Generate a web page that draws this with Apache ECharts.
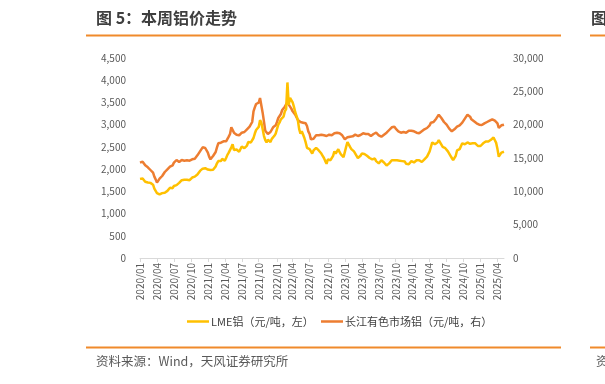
<!DOCTYPE html>
<html>
<head>
<meta charset="utf-8">
<script src="https://cdn.jsdelivr.net/npm/echarts@6/dist/echarts.min.js"></script>
<style>
html,body{margin:0;padding:0;background:#fff;}
#c{width:605px;height:384px;}
</style>
</head>
<body>
<div id="c"></div>
<script>
// Weekly observations (Fridays) starting 2020-01-03
var startDate = '2020-01-03';
var seriesNames = ['LME铝（元/吨，左）', '长江有色市场铝（元/吨，右）'];
var leftTicks = {min: 0, max: 4500, interval: 500};
var rightTicks = {min: 0, max: 30000, interval: 5000};

var lme = [
  // 2020
  1780,1770,1790,1750,1715, 1690,1700,1680,1690, 1670,1650,1560,1510, 1460,1450,1430,1440,
  1460,1450,1470,1500,1510, 1540,1580,1590,1570, 1620,1650,1640,1660,1690, 1720,1750,1770,1760,
  1770,1760,1790,1750, 1780,1810,1850,1830,1820, 1880,1920,1960,1990, 2010,2040,2020,1990,
  // 2021
  1990,2010,1980,1990,1985, 2010,2060,2130,2180, 2210,2180,2230,2240, 2190,2250,2320,2370,2400,
  2490,2560,2430,2420, 2440,2450,2390,2420, 2510,2520,2470,2490,2530, 2610,2580,2600,2640,
  2700,2800,2880,2900, 2950,3100,3050,2900,2750, 2650,2600,2660,2650, 2610,2680,2700,2750,2800,
  // 2022
  2900,3000,3050,3120, 3120,3180,3300,3350, 3950,3450,3600,3550, 3500,3400,3280,3250,3100,
  2900,2800,2850,2780, 2700,2600,2480,2450, 2450,2400,2350,2420,2440, 2480,2450,2420,2400,
  2350,2300,2250,2180,2120, 2220,2250,2200,2230, 2300,2400,2350,2400, 2450,2380,2330,2300,2270,
  // 2023
  2300,2500,2610,2580, 2500,2450,2420,2400, 2350,2300,2250,2280,2300, 2350,2380,2340,2320,
  2300,2280,2250,2230, 2220,2210,2240,2180,2150, 2130,2170,2200,2180, 2150,2120,2080,2100,
  2130,2160,2200,2240,2200, 2180,2200,2170,2190, 2200,2180,2200,2170, 2120,2080,2110,2150,2180,
  // 2024
  2180,2150,2170,2200, 2230,2200,2170,2160, 2200,2220,2240,2280,2290, 2400,2500,2600,2580,
  2560,2530,2600,2650,2620, 2550,2500,2480,2470, 2450,2400,2380,2300, 2250,2200,2170,2300,2420,
  2430,2450,2480,2580, 2620,2560,2580,2600, 2590,2570,2560,2580,2560, 2580,2540,2520,2530,
  // 2025
  2520,2540,2580,2600,2620, 2600,2620,2650,2660, 2680,2710,2650,2590, 2450,2280,2320,2370,
  2400,2390
];

var cj = [
  // 2020
  14300,14250,14450,14300,13900, 13750,13600,13500,13200, 13100,12800,12200,11800, 11300,11500,11900,12200,
  12300,12600,12900,13100,13300, 13500,13700,13800,13900, 14300,14600,14700,14500,14400, 14500,14700,14650,14600,
  14700,14650,14550,14600, 14700,14800,14950,14900,15000, 15400,15600,16000,16300, 16600,16800,16500,16200,
  // 2021
  15800,15200,14800,15100,15300, 15600,15900,16600,17200, 17500,17300,17600,17500, 17600,17500,17800,18200,18600,
  19600,19900,18800,18600, 18500,18600,18400,18700, 18800,18700,18900,19000,19300, 19500,19700,19800,20400,
  22000,22600,23100,23000, 23300,24000,24300,21800,20500, 19100,18800,18600,18700, 18900,19200,19600,19500,19900,
  // 2022
  20400,21000,21300,21600, 22200,22500,22700,22900, 23400,23000,22700,22400, 22000,21800,21500,21200,20700,
  20600,20400,20500,20300, 20400,20200,19800,19000, 18600,17800,17600,17900,18200, 18400,18500,18400,18300,
  18500,18600,18400,18500,18300, 18400,18500,18300,18400, 18600,18700,18900,18800, 18900,18700,18600,18400,18200,
  // 2023
  17800,17600,18100,18300, 18200,18300,18250,18400, 18500,18400,18300,18500,18450, 18600,18700,18500,18600,
  18700,18600,18500,18300, 18400,18600,18700,18800,18500, 18400,18300,18200,18400, 18500,18700,18800,19000,
  19200,19400,19600,19500,19700, 19400,19200,19000,18900, 18800,18700,18900,19000, 18800,18900,19100,19200,19100,
  // 2024
  19200,19000,18900,18800, 18800,18700,18900,19000, 19100,19300,19400,19500,19600, 19900,20300,20500,20400,
  20600,20900,21200,21500,21300, 21000,20700,20400,20200, 20000,19700,19400,19200, 19000,18900,19300,19600,19700,
  19800,19900,20100,20300, 20600,20900,21200,21500, 21400,21200,20800,20700,20500, 20400,20200,20100,20000,
  // 2025
  19900,19950,20100,20200,20300, 20400,20500,20600,20700, 20800,20700,20600,20500, 20200,19500,19700,19900,
  19800,20000
];

// categories: weekly dates
var categories = [];
(function(){
  var d = new Date(startDate + 'T00:00:00Z');
  for (var i = 0; i < lme.length; i++) {
    var y = d.getUTCFullYear(), m = d.getUTCMonth() + 1, day = d.getUTCDate();
    categories.push(y + '-' + (m < 10 ? '0' + m : m) + '-' + (day < 10 ? '0' + day : day));
    d = new Date(d.getTime() + 7 * 86400000);
  }
})();

function isQuarterStart(idx, val) {
  var m = parseInt(val.substr(5, 2), 10);
  var day = parseInt(val.substr(8, 2), 10);
  return (m === 1 || m === 4 || m === 7 || m === 10) && day <= 7;
}
function fmtNum(v) { return String(v).replace(/\B(?=(\d{3})+(?!\d))/g, ','); }

var FONT = '"Noto Sans CJK SC", "Noto Sans", sans-serif';
var ORANGE_RULE = '#F08A2B';

var chart = echarts.init(document.getElementById('c'), null, {renderer: 'canvas'});
chart.setOption({
  animation: false,
  backgroundColor: '#ffffff',
  textStyle: {fontFamily: FONT},
  grid: {left: 140, right: 101, top: 58, bottom: 126, containLabel: false},
  legend: [
    {
      data: [seriesNames[0]], left: 182, top: 311, icon: 'rect', itemWidth: 22, itemHeight: 2.5, itemGap: 4,
      textStyle: {fontSize: 11, color: '#404040', fontFamily: FONT, padding: [0, 0, 0, -3]}
    },
    {
      data: [seriesNames[1]], left: 316, top: 311, icon: 'rect', itemWidth: 22, itemHeight: 2.5, itemGap: 4,
      textStyle: {fontSize: 11, color: '#404040', fontFamily: FONT, padding: [0, 0, 0, -3]}
    }
  ],
  xAxis: {
    type: 'category',
    data: categories,
    boundaryGap: false,
    axisLine: {show: true, lineStyle: {color: '#d9d9d9', width: 1}},
    axisTick: {show: true, interval: isQuarterStart, length: 4, lineStyle: {color: '#d9d9d9'}},
    axisLabel: {
      interval: isQuarterStart, rotate: 90, fontSize: 10, color: '#595959', margin: 5, fontFamily: FONT,
      formatter: function(v) { return v.substr(0, 4) + '/' + v.substr(5, 2); }
    },
    splitLine: {show: false}
  },
  yAxis: [
    {
      type: 'value', position: 'left', min: leftTicks.min, max: leftTicks.max, interval: leftTicks.interval,
      axisLine: {show: false}, axisTick: {show: false}, splitLine: {show: false},
      axisLabel: {fontSize: 10, color: '#595959', margin: 14, formatter: fmtNum, fontFamily: FONT}
    },
    {
      type: 'value', position: 'right', min: rightTicks.min, max: rightTicks.max, interval: rightTicks.interval,
      axisLine: {show: false}, axisTick: {show: false}, splitLine: {show: false},
      axisLabel: {fontSize: 10, color: '#595959', margin: 9, formatter: fmtNum, fontFamily: FONT}
    }
  ],
  series: [
    {
      name: seriesNames[0], type: 'line', data: lme, yAxisIndex: 0, showSymbol: false, z: 4,
      itemStyle: {color: '#FFC000'}, lineStyle: {color: '#FFC000', width: 2.5}
    },
    {
      name: seriesNames[1], type: 'line', data: cj, yAxisIndex: 1, showSymbol: false, z: 3,
      itemStyle: {color: '#ED7D31'}, lineStyle: {color: '#ED7D31', width: 2.5}
    }
  ],
  graphic: [
    {type: 'text', left: 96, top: 10, style: {text: '图 5：本周铝价走势', fontSize: 16, fontWeight: 'bold', fill: '#3f3f3f', fontFamily: FONT}},
    {type: 'line', shape: {x1: 86, y1: 35.5, x2: 561, y2: 35.5}, style: {stroke: ORANGE_RULE, lineWidth: 2}},
    {type: 'line', shape: {x1: 590, y1: 35.5, x2: 605, y2: 35.5}, style: {stroke: ORANGE_RULE, lineWidth: 2}},
    {type: 'text', x: 591, y: 10, style: {text: '图', fontSize: 16, fontWeight: 'bold', fill: '#3f3f3f', fontFamily: FONT}},
    {type: 'line', shape: {x1: 86, y1: 347.5, x2: 561, y2: 347.5}, style: {stroke: ORANGE_RULE, lineWidth: 2}},
    {type: 'line', shape: {x1: 590, y1: 347.5, x2: 605, y2: 347.5}, style: {stroke: ORANGE_RULE, lineWidth: 2}},
    {type: 'text', left: 96, top: 355, style: {text: '资料来源：Wind，天风证券研究所', fontSize: 12.5, fill: '#595959', fontFamily: FONT}},
    {type: 'text', x: 596, y: 355, style: {text: '资', fontSize: 12.5, fill: '#595959', fontFamily: FONT}}
  ]
});
</script>
</body>
</html>
